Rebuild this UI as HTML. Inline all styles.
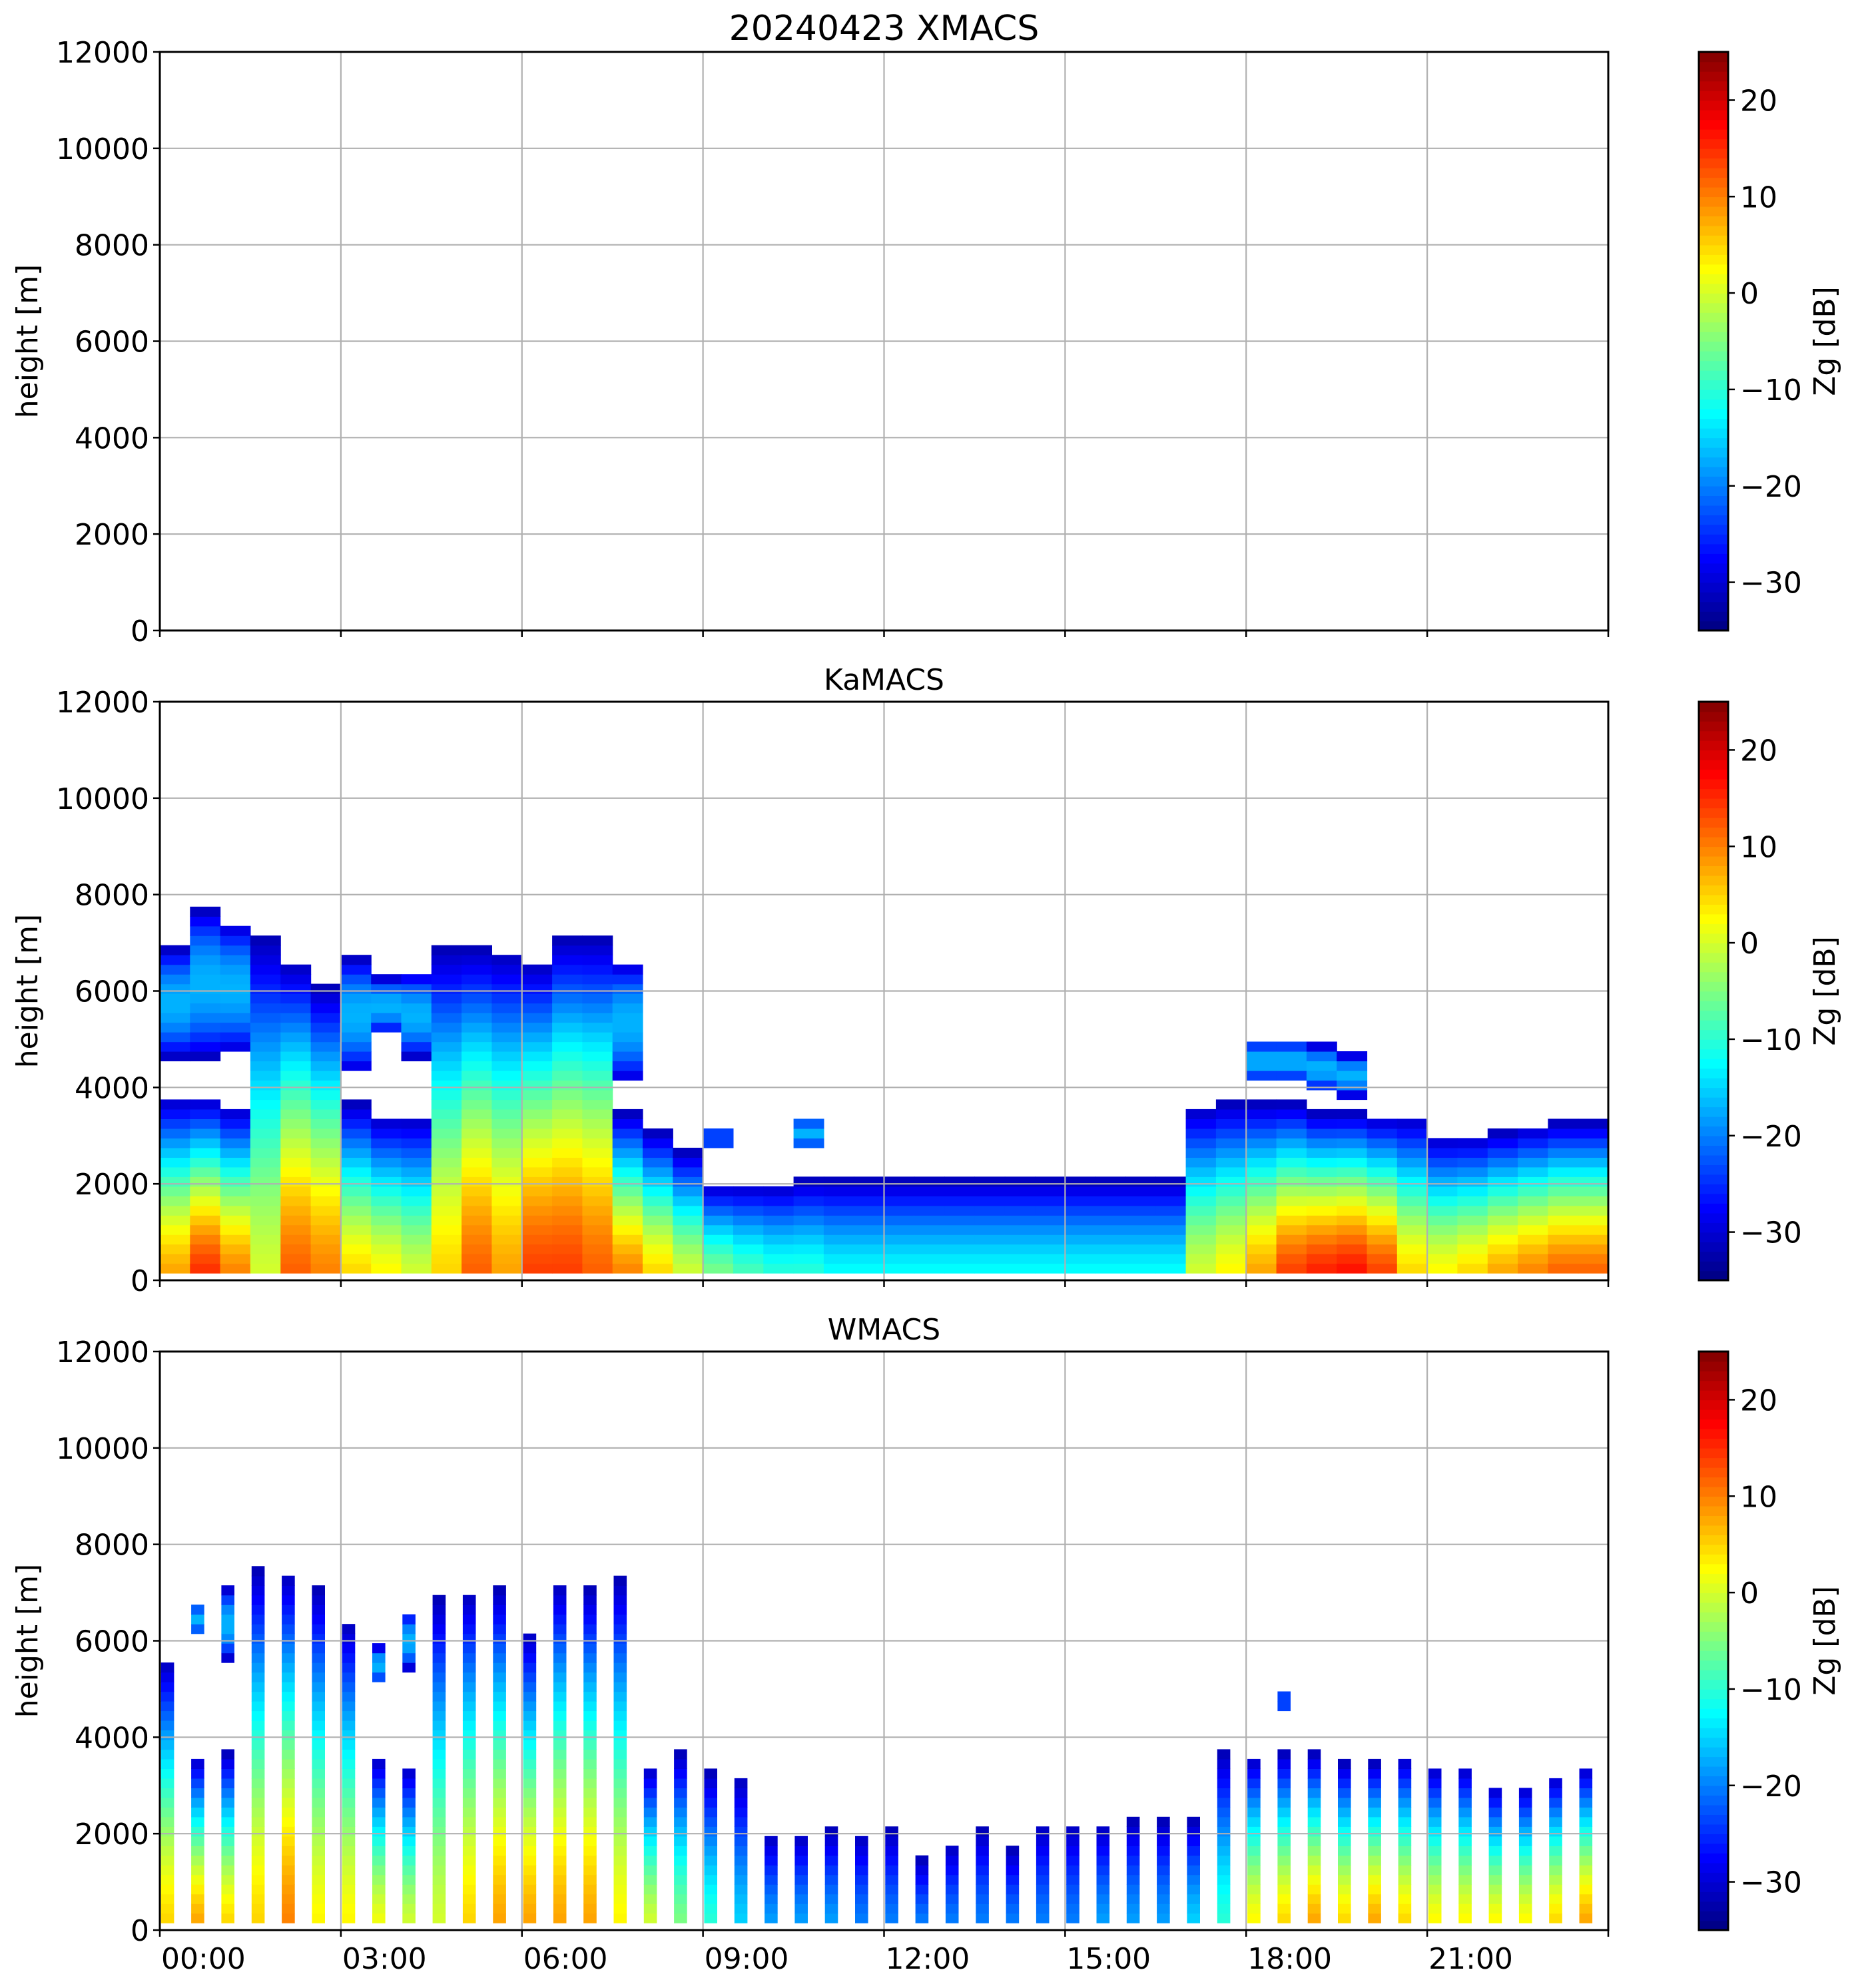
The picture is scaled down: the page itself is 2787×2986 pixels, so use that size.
<!DOCTYPE html>
<html><head><meta charset="utf-8"><style>
html,body{margin:0;padding:0;background:#fff;}
svg text{font-family:"DejaVu Sans","Liberation Sans",sans-serif;fill:#000;}
</style></head>
<body>
<svg id="fig" xmlns="http://www.w3.org/2000/svg" width="2787" height="2981" viewBox="0 0 2787 2981">
<rect width="2787" height="2981" fill="#fff"/>
</svg>
<script>
// ---- data (0.5 h bins, index i => hour i/2) ----
const hours = Array.from({length:48},(_,i)=>i*0.5);
const kaTop  = [3700,3700,3500,7000,6500,6000,3600,3300,3300,6800,6800,6700,6500,7000,7000,3400,3000,2600,1900,1900,1900,2000,2000,2000,2000,2000,2000,2000,2000,2000,2000,2000,2000,2000,3500,3600,3600,3600,3400,3400,3300,3300,2900,2900,3000,3100,3200,3200];
const kaSurf = [8,15,10,0,12,10,5,3,0,5,12,8,14,14,12,10,5,0,-5,-8,-10,-10,-12,-12,-12,-12,-12,-12,-12,-12,-12,-12,-12,-12,0,3,8,14,16,17,14,5,3,5,8,10,12,12];
const kaUpBase = [4500,4500,4600,0,0,0,4200,5000,4500,0,0,0,0,0,0,4000,0,0,2700,0,0,2600,0,0,0,0,0,0,0,0,0,0,0,0,0,0,4000,4000,3800,3700,0,0,0,0,0,0,0,0];
const kaUpTop  = [6800,7600,7300,0,0,0,6600,6200,6300,0,0,0,0,0,0,6500,0,0,3000,0,0,3300,0,0,0,0,0,0,0,0,0,0,0,0,0,0,4900,4900,4800,4600,0,0,0,0,0,0,0,0];
const wTop  = [5500,3500,3600,7400,7300,7000,6300,3500,3300,6800,6900,7000,6100,7100,7000,7200,3300,3600,3200,3100,1900,1900,2000,1900,2000,1400,1700,2000,1600,2100,2100,2100,2200,2200,2200,3600,3500,3600,3600,3400,3400,3500,3300,3300,2900,2900,3100,3300];
const wSurf = [5,8,5,5,10,3,3,2,0,0,5,8,8,8,8,3,0,-5,-10,-15,-18,-18,-18,-20,-20,-20,-20,-20,-20,-20,-20,-18,-18,-18,-15,-10,3,5,8,5,8,5,3,3,3,3,5,8];
const wUpBase = [0,6000,5500,0,0,0,0,5000,5300,0,0,0,0,0,0,0,0,0,0,0,0,0,0,0,0,0,0,0,0,0,0,0,0,0,0,0,0,4500,0,0,0,0,0,0,0,0,0,0];
const wUpTop  = [0,6700,7000,0,0,0,0,5800,6500,0,0,0,0,0,0,0,0,0,0,0,0,0,0,0,0,0,0,0,0,0,0,0,0,0,0,0,0,4800,0,0,0,0,0,0,0,0,0,0];
const yTicks = [0,2000,4000,6000,8000,10000,12000];
const xTicks = [0,3,6,9,12,15,18,21,24];
const xTickLabels = ["00:00","03:00","06:00","09:00","12:00","15:00","18:00","21:00",""];
const cbTicks = [-30,-20,-10,0,10,20];
const cbLabels = ["\u221230","\u221220","\u221210","0","10","20"];

const NS="http://www.w3.org/2000/svg";
const svg=document.getElementById('fig');
function mk(tag,attrs,parent){const e=document.createElementNS(NS,tag);for(const k in attrs)e.setAttribute(k,attrs[k]);(parent||svg).appendChild(e);return e;}

const X0=240,X1=2415;
const panels=[{top:78,bot:947,title:"20240423 XMACS",big:true,name:"xmacs"},{top:1054,bot:1923,title:"KaMACS",name:"kamacs"},{top:2030,bot:2899,title:"WMACS",name:"wmacs"}];
const xs=h=>X0+(h/24)*(X1-X0);
const ysFor=p=>v=>p.bot-(v/12000)*(p.bot-p.top);

function jet(v){ // v in -35..25
  let t=Math.max(0,Math.min(1,(v+35)/60));
  const f=x=>Math.max(0,Math.min(1,x));
  const r=f(Math.min(4*t-1.5,-4*t+4.5)), g=f(Math.min(4*t-0.5,-4*t+3.5)), b=f(Math.min(4*t+0.5,-4*t+2.5));
  return `rgb(${Math.round(r*255)},${Math.round(g*255)},${Math.round(b*255)})`;
}
function profile(h,top,surf){const r=Math.min(1,h/top);return surf+(-32-surf)*Math.pow(r,1.4);}
function upper(h,b,t){const m=(b+t)/2,hw=(t-b)/2;const d=Math.abs(h-m)/hw;return -17-15*d*d;}

function drawData(p,g,tops,surfs,ub,ut,x0off,w){
  const ys=ysFor(p); const dh=200;
  for(let i=0;i<hours.length;i++){
    const xa=xs(hours[i]+x0off), xb=xs(hours[i]+x0off+w);
    for(let h=150;h<12000;h+=dh){
      let v=null;
      if(h<tops[i]) v=profile(h,tops[i],surfs[i]);
      else if(ub[i]>0 && h>=ub[i] && h<ut[i]) v=upper(h,ub[i],ut[i]);
      if(v===null) continue;
      const r=mk('rect',{x:xa.toFixed(1),y:ys(Math.min(h+dh,12000)).toFixed(1),width:(xb-xa+0.6).toFixed(1),height:(ys(h)-ys(Math.min(h+dh,12000))+0.6).toFixed(1),fill:jet(v)},g);
      
      
    }
  }
}

panels.forEach((p,pi)=>{
  const ys=ysFor(p);
  const g=mk('g',{});
  
  
  if(pi===1) drawData(p,g,kaTop,kaSurf,kaUpBase,kaUpTop,0,0.5);
  if(pi===2) drawData(p,g,wTop,wSurf,wUpBase,wUpTop,0.02,0.21);
  // grid
  yTicks.forEach(v=>{const l=mk('line',{x1:X0,x2:X1,y1:ys(v),y2:ys(v),stroke:'#b0b0b0','stroke-width':2.2},g);});
  xTicks.forEach(h=>{const l=mk('line',{x1:xs(h),x2:xs(h),y1:p.top,y2:p.bot,stroke:'#b0b0b0','stroke-width':2.2},g);});
  const fr=mk('rect',{x:X0,y:p.top,width:X1-X0,height:p.bot-p.top,fill:'none',stroke:'#000','stroke-width':3},g);
  
  yTicks.forEach(v=>{
    mk('line',{x1:X0-10,x2:X0,y1:ys(v),y2:ys(v),stroke:'#000','stroke-width':2.5},g);
    const t=mk('text',{x:X0-16,y:ys(v)+16,'text-anchor':'end','font-size':44},g);t.textContent=v;
    
  });
  xTicks.forEach((h,k)=>{
    mk('line',{x1:xs(h),x2:xs(h),y1:p.bot,y2:p.bot+10,stroke:'#000','stroke-width':2.5},g);
    if(pi===2&&xTickLabels[k]){const t=mk('text',{x:xs(h)+2,y:p.bot+58,'font-size':44},g);t.textContent=xTickLabels[k];
      }
  });
  const yl=mk('text',{x:0,y:0,'text-anchor':'middle','font-size':44,transform:`translate(56,${(p.top+p.bot)/2}) rotate(-90)`},g);
  yl.textContent='height [m]';
  const tt=mk('text',{x:(X0+X1)/2,y:p.top-18,'text-anchor':'middle','font-size':p.big?52:44},g);
  tt.textContent=p.title;
  // colorbar
  const CB0=2551,CB1=2595;
  const cbv=v=>p.bot-(v+35)/60*(p.bot-p.top);
  const cg=mk('g',{},g);
  const N=60;for(let k=0;k<N;k++){const v=-35+(k+0.5)*60/N;mk('rect',{x:CB0,y:cbv(-35+(k+1)*60/N),width:CB1-CB0,height:(p.bot-p.top)/N+0.8,fill:jet(v)},cg);}
  mk('rect',{x:CB0,y:p.top,width:CB1-CB0,height:p.bot-p.top,fill:'none',stroke:'#000','stroke-width':3},cg);
  cbTicks.forEach((v,k)=>{mk('line',{x1:CB1,x2:CB1+10,y1:cbv(v),y2:cbv(v),stroke:'#000','stroke-width':2.5},cg);
    const t=mk('text',{x:CB1+18,y:cbv(v)+16,'font-size':44},cg);t.textContent=cbLabels[k];
    });
  const cl=mk('text',{x:0,y:0,'text-anchor':'middle','font-size':44,transform:`translate(2755,${(p.top+p.bot)/2}) rotate(-90)`},cg);
  cl.textContent='Zg [dB]';
});
</script>
</body></html>
